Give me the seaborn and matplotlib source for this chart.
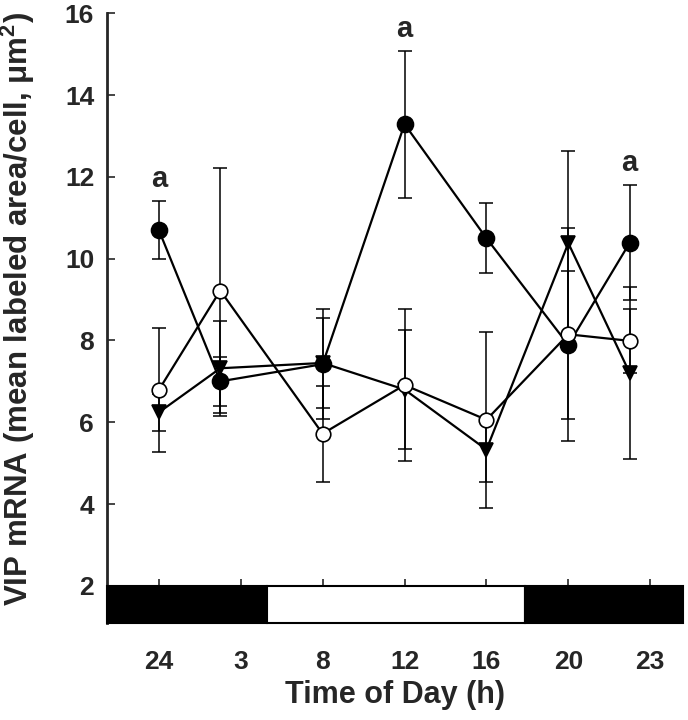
import numpy as np
import pandas as pd
import matplotlib
matplotlib.use("Agg")
import matplotlib.pyplot as plt
import seaborn as sns
from matplotlib.patches import Rectangle

# sampling times (h) and the odd tick labelling of the original figure
hours = [0, 3, 8, 12, 16, 20, 23]
tick_pos = [0, 4, 8, 12, 16, 20, 24]
tick_labels = ["24", "3", "8", "12", "16", "20", "23"]

# filled circles
filled_mean = [10.7, 7.0, 7.42, 13.29, 10.5, 7.89, 10.39]
filled_err = [0.72, 0.6, 1.35, 1.8, 0.85, 1.8, 1.4]
# open circles
open_mean = [6.79, 9.22, 5.72, 6.91, 6.06, 8.15, 7.99]
open_err = [1.52, 3.0, 1.17, 1.87, 2.15, 2.6, 0.78]
# filled triangles
tri_mean = [6.24, 7.32, 7.45, 6.8, 5.33, 10.38, 7.2]
tri_err = [0.46, 1.16, 1.1, 1.45, 0.78, 2.25, 2.1]

# significance letters
sig_hours = [0, 12, 23]
sig_y = [11.95, 15.62, 12.35]
sig_text = ["a", "a", "a"]

# light/dark bar
light_on, light_off = 5.26, 17.9

sns.set_style("ticks")
plt.rcParams["font.family"] = ["Liberation Sans", "DejaVu Sans"]
plt.rcParams["font.weight"] = "bold"
plt.rcParams["mathtext.fontset"] = "custom"
plt.rcParams["mathtext.bf"] = "Liberation Sans:bold"
plt.rcParams["mathtext.rm"] = "Liberation Sans:bold"

fig = plt.figure(figsize=(6.88, 7.2), dpi=100)
ax = fig.add_axes([0.155, 0.1347, 0.8377, 0.8468])

x0, x1 = -2.55, 25.6
y0, y1 = 1.09, 16

series = [
    (tri_mean, tri_err, dict(marker="v", markersize=10.5, markerfacecolor="black")),
    (filled_mean, filled_err, dict(marker="o", markersize=11.5, markerfacecolor="black")),
    (open_mean, open_err, dict(marker="o", markersize=10.5, markerfacecolor="white")),
]

for mean, err, style in series:
    ax.errorbar(hours, mean, yerr=err, fmt="none", ecolor="black",
                elinewidth=1.1, capsize=5, capthick=1.1, zorder=1.5)
    sns.lineplot(x=hours, y=mean, ax=ax, color="black", linewidth=1.6,
                 markeredgecolor="black", markeredgewidth=1.2, zorder=2,
                 **style)

for h, yv, t in zip(sig_hours, sig_y, sig_text):
    ax.text(h, yv, t, ha="center", va="center", fontsize=21, fontweight="bold")

# light/dark bar along the bottom
for a, b, c in [(x0, light_on, "black"), (light_on, light_off, "white"), (light_off, x1, "black")]:
    ax.add_patch(Rectangle((a, y0), b - a, 2 - y0, facecolor=c, edgecolor="black",
                           linewidth=1.5, clip_on=False, zorder=3))

ax.set_xlim(x0, x1)
ax.set_ylim(y0, y1)
ax.set_yticks(range(2, 17, 2))
ax.set_xticks(tick_pos)
ax.set_xticklabels(tick_labels)

sns.despine(ax=ax)
ax.spines["bottom"].set_position(("data", 2))
ax.spines["bottom"].set_linewidth(1.2)
ax.spines["left"].set_linewidth(2)

ax.tick_params(axis="x", direction="in", length=5, width=1.2, pad=46, labelsize=19)
ax.tick_params(axis="y", direction="in", length=6, width=1.2, pad=9, labelsize=19)

ax.set_xlabel("Time of Day (h)", fontsize=22, fontweight="bold")
ax.set_ylabel("VIP mRNA (mean labeled area/cell, μm$^{\\mathbf{2}}$)",
              fontsize=22.5, fontweight="bold")
ax.xaxis.set_label_coords(0.5, -0.093)
ax.xaxis.label.set_va("top")
ax.yaxis.set_label_coords(-0.12, 0.515)

fig.savefig("out.png", dpi=100)
